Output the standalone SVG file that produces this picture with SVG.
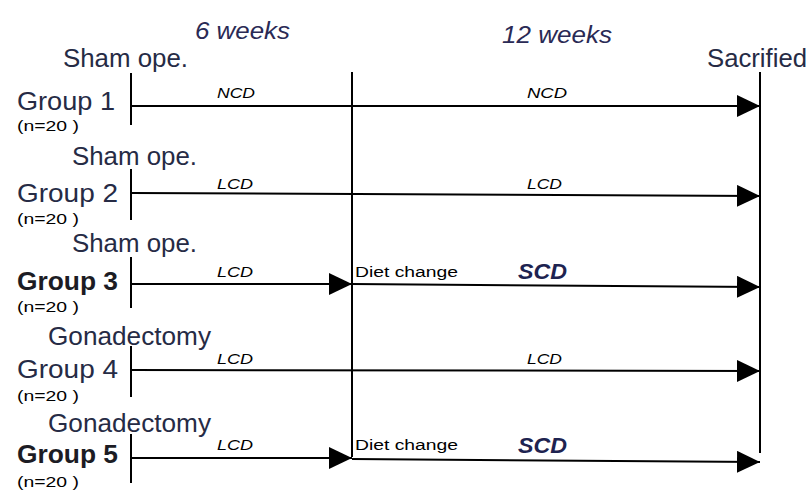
<svg xmlns="http://www.w3.org/2000/svg" width="812" height="492" viewBox="0 0 812 492">
<defs>
<marker id="arr" markerUnits="userSpaceOnUse" markerWidth="24" markerHeight="22" refX="23" refY="11" orient="auto">
<path d="M0,0 L23,11 L0,22 z" fill="#000"/>
</marker>
<style>
.t{font-family:"Liberation Sans",Arial,sans-serif;fill:#262b45}
.lab{font-size:25px}
.grp{font-size:25px}
.b{font-weight:bold;fill:#1c1c24}
.n{font-family:"Liberation Sans",Arial,sans-serif;font-size:14px;fill:#000}
.d{font-family:"Liberation Sans",Arial,sans-serif;font-size:14px;font-style:italic;fill:#000}
.scd{font-family:"Liberation Sans",Arial,sans-serif;font-size:22px;font-style:italic;font-weight:bold;fill:#1e2350}
.wk{font-family:"Liberation Sans",Arial,sans-serif;font-size:24px;font-style:italic;fill:#2a2a55}
.ln{stroke:#000;stroke-width:2;fill:none}
</style>
</defs>
<rect width="812" height="492" fill="#fff"/>
<g id="timeline">
<text class="wk" x="195" y="39" textLength="95" lengthAdjust="spacingAndGlyphs">6 weeks</text>
<text class="wk" x="502" y="43" textLength="110" lengthAdjust="spacingAndGlyphs">12 weeks</text>
<text class="t lab" x="707" y="67" textLength="100" lengthAdjust="spacingAndGlyphs">Sacrified</text>
<line class="ln" x1="352" y1="72" x2="352" y2="457"/>
<line class="ln" x1="760" y1="72" x2="760" y2="453"/>
</g>
<g id="group1">
<text class="t lab" x="63" y="67" textLength="125" lengthAdjust="spacingAndGlyphs">Sham ope.</text>
<text class="t grp" x="17" y="110" textLength="98" lengthAdjust="spacingAndGlyphs">Group 1</text>
<text class="n" x="17" y="131" textLength="62" lengthAdjust="spacingAndGlyphs">(n=20 )</text>
<line class="ln" x1="131" y1="73" x2="131" y2="125"/>
</g>
<g id="group2">
<text class="t lab" x="72" y="165" textLength="125" lengthAdjust="spacingAndGlyphs">Sham ope.</text>
<text class="t grp" x="17" y="202" textLength="101" lengthAdjust="spacingAndGlyphs">Group 2</text>
<text class="n" x="17" y="224" textLength="62" lengthAdjust="spacingAndGlyphs">(n=20 )</text>
<line class="ln" x1="131" y1="169" x2="131" y2="220"/>
</g>
<g id="group3">
<text class="t lab" x="72" y="252" textLength="125" lengthAdjust="spacingAndGlyphs">Sham ope.</text>
<text class="t grp b" x="17" y="290" textLength="101" lengthAdjust="spacingAndGlyphs">Group 3</text>
<text class="n" x="17" y="312" textLength="62" lengthAdjust="spacingAndGlyphs">(n=20 )</text>
<line class="ln" x1="131" y1="257" x2="131" y2="308"/>
</g>
<g id="group4">
<text class="t lab" x="48" y="345" textLength="163" lengthAdjust="spacingAndGlyphs">Gonadectomy</text>
<text class="t grp" x="17" y="378" textLength="101" lengthAdjust="spacingAndGlyphs">Group 4</text>
<text class="n" x="17" y="401" textLength="62" lengthAdjust="spacingAndGlyphs">(n=20 )</text>
<line class="ln" x1="131" y1="346" x2="131" y2="397"/>
</g>
<g id="group5">
<text class="t lab" x="48" y="432" textLength="163" lengthAdjust="spacingAndGlyphs">Gonadectomy</text>
<text class="t grp b" x="17" y="463" textLength="101" lengthAdjust="spacingAndGlyphs">Group 5</text>
<text class="n" x="17" y="487" textLength="62" lengthAdjust="spacingAndGlyphs">(n=20 )</text>
<line class="ln" x1="131" y1="434" x2="131" y2="483"/>
</g>
<g id="connectors">
<line class="ln" x1="131" y1="106" x2="760" y2="106" marker-end="url(#arr)"/>
<text class="d" x="217" y="98" textLength="38" lengthAdjust="spacingAndGlyphs">NCD</text>
<text class="d" x="527" y="98" textLength="40" lengthAdjust="spacingAndGlyphs">NCD</text>

<line class="ln" x1="131" y1="193" x2="760" y2="196" marker-end="url(#arr)"/>
<text class="d" x="217" y="189" textLength="36" lengthAdjust="spacingAndGlyphs">LCD</text>
<text class="d" x="527" y="189" textLength="35" lengthAdjust="spacingAndGlyphs">LCD</text>

<line class="ln" x1="131" y1="284" x2="352" y2="284" marker-end="url(#arr)"/>
<line class="ln" x1="352" y1="284" x2="760" y2="287" marker-end="url(#arr)"/>
<text class="d" x="217" y="277" textLength="36" lengthAdjust="spacingAndGlyphs">LCD</text>
<text class="n" x="355" y="277" textLength="103" lengthAdjust="spacingAndGlyphs">Diet change</text>
<text class="scd" x="518" y="279" textLength="49" lengthAdjust="spacingAndGlyphs">SCD</text>

<line class="ln" x1="131" y1="370" x2="760" y2="371" marker-end="url(#arr)"/>
<text class="d" x="217" y="364" textLength="36" lengthAdjust="spacingAndGlyphs">LCD</text>
<text class="d" x="527" y="364" textLength="35" lengthAdjust="spacingAndGlyphs">LCD</text>

<line class="ln" x1="131" y1="458" x2="352" y2="458" marker-end="url(#arr)"/>
<line class="ln" x1="352" y1="459" x2="760" y2="462" marker-end="url(#arr)"/>
<text class="d" x="217" y="450" textLength="36" lengthAdjust="spacingAndGlyphs">LCD</text>
<text class="n" x="355" y="450" textLength="103" lengthAdjust="spacingAndGlyphs">Diet change</text>
<text class="scd" x="518" y="453" textLength="49" lengthAdjust="spacingAndGlyphs">SCD</text>
</g>
</svg>
